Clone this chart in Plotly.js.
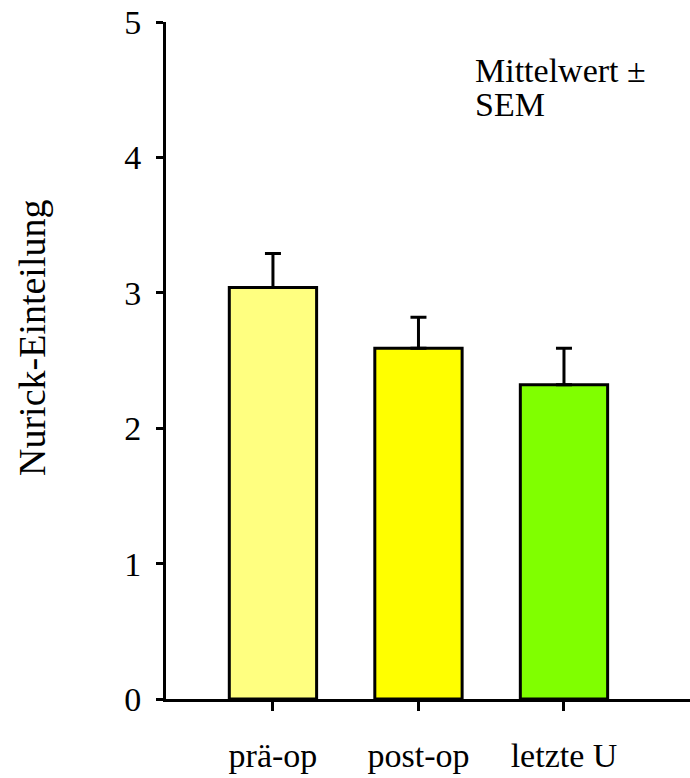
<!DOCTYPE html>
<html>
<head>
<meta charset="utf-8">
<script src="https://cdn.plot.ly/plotly-3.0.1.min.js"></script>
<style>html,body{margin:0;padding:0;background:#fff;}#chart{width:690px;height:778px;}</style>
</head>
<body>
<div id="chart"></div>
<script>
const categories = ["prä-op", "post-op", "letzte U"];
const means = [3.04, 2.59, 2.32];
const sem = [0.25, 0.23, 0.27];
const barColors = ["#FFFF80", "#FFFF00", "#80FF00"];
const yTitle = "Nurick-Einteilung";
const noteLines = ["Mittelwert ±", "SEM"];

const FONT = "Liberation Serif";

const trace = {
  type: "bar",
  x: categories,
  y: means,
  marker: { color: barColors, line: { color: "#000", width: 3 } },
  error_y: {
    type: "data", symmetric: false, array: sem, arrayminus: sem.map(() => 0),
    color: "#000", thickness: 3, width: 8
  },
  hoverinfo: "none"
};

const layout = {
  width: 690, height: 778,
  margin: { l: 166, r: 0, t: 22, b: 79 },
  paper_bgcolor: "#fff", plot_bgcolor: "#fff",
  showlegend: false,
  bargap: 0.4,
  font: { family: FONT, color: "#000", size: 34 },
  xaxis: {
    type: "category",
    range: [-0.735, 2.866],
    showline: true, linecolor: "#000", linewidth: 3,
    ticks: "outside", ticklen: 9, tickwidth: 3, tickcolor: "#000",
    showgrid: false, zeroline: false,
    tickfont: { family: FONT, size: 34, color: "#000" },
    ticklabelstandoff: 15
  },
  yaxis: {
    range: [0, 5], dtick: 1, tick0: 0,
    showline: true, linecolor: "#000", linewidth: 3,
    ticks: "outside", ticklen: 7, tickwidth: 3, tickcolor: "#000",
    showgrid: false, zeroline: false,
    tickfont: { family: FONT, size: 34, color: "#000" },
    ticklabelstandoff: 8
  },
  annotations: [
    { text: yTitle, xref: "paper", yref: "paper", x: (32 - 166) / 524, y: (699 - 338) / 677,
      xanchor: "center", yanchor: "middle", textangle: -90, showarrow: false,
      font: { family: FONT, size: 38, color: "#000" } },
    { text: noteLines[0], xref: "paper", yref: "paper", x: (473 - 166) / 524, y: (699 - 71) / 677,
      xanchor: "left", yanchor: "middle", showarrow: false,
      font: { family: FONT, size: 34, color: "#000" } },
    { text: noteLines[1], xref: "paper", yref: "paper", x: (473 - 166) / 524, y: (699 - 104) / 677,
      xanchor: "left", yanchor: "middle", showarrow: false,
      font: { family: FONT, size: 34, color: "#000" } }
  ]
};

Plotly.newPlot("chart", [trace], layout, { staticPlot: true, displayModeBar: false });
</script>
</body>
</html>
